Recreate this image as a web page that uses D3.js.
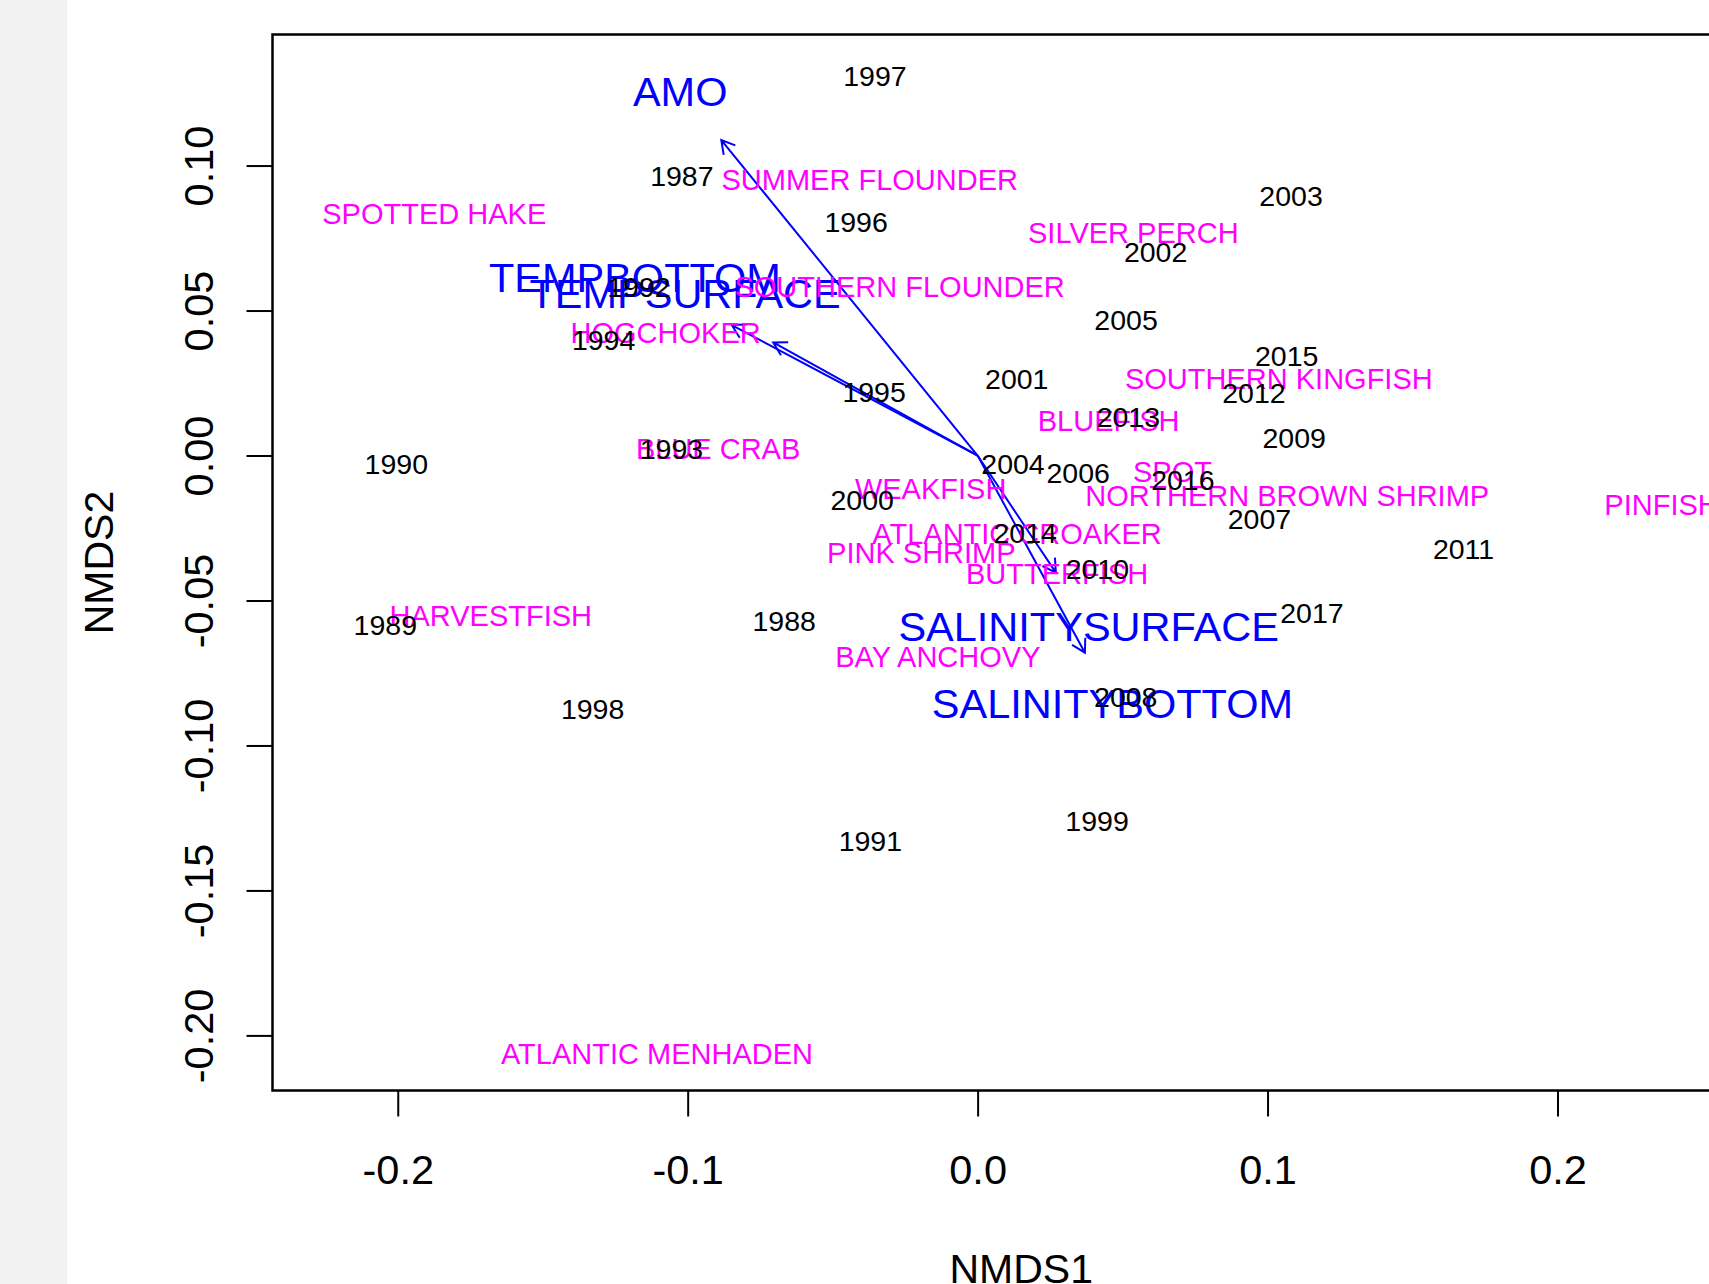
<!DOCTYPE html>
<html>
<head>
<meta charset="utf-8">
<script src="https://cdn.jsdelivr.net/npm/d3@7"></script>
<style>
  html, body { margin: 0; padding: 0; background: #ffffff; }
  svg { display: block; }
  text { font-family: "Liberation Sans", Arial, Helvetica, sans-serif; }
</style>
</head>
<body>
<div id="chart"></div>
<script>
// ---------------- DATA ----------------
const years = ["1987","1988","1989","1990","1991","1992","1993","1994","1995","1996",
  "1997","1998","1999","2000","2001","2002","2003","2004","2005","2006","2007","2008",
  "2009","2010","2011","2012","2013","2014","2015","2016","2017"];
const yearNMDS1 = [-0.1020,-0.0667,-0.2043,-0.2005,-0.0370,-0.1168,-0.1056,-0.1290,-0.0357,-0.0419,
  -0.0354,-0.1328,0.0412,-0.0398,0.0135,0.0614,0.1081,0.0122,0.0512,0.0347,0.0972,0.0511,
  0.1092,0.0413,0.1676,0.0953,0.0520,0.0164,0.1066,0.0708,0.1153];
const yearNMDS2 = [0.0964,-0.0569,-0.0585,-0.0030,-0.1327,0.0583,0.0024,0.0400,0.0220,0.0806,
  0.1310,-0.0874,-0.1259,-0.0151,0.0264,0.0703,0.0897,-0.0030,0.0467,-0.0059,-0.0219,-0.0832,
  0.0063,-0.0392,-0.0320,0.0218,0.0134,-0.0265,0.0345,-0.0084,-0.0542];

const species = ["SUMMER FLOUNDER","SPOTTED HAKE","SILVER PERCH","SOUTHERN FLOUNDER","HOGCHOKER",
  "SOUTHERN KINGFISH","BLUEFISH","BLUE CRAB","SPOT","WEAKFISH","NORTHERN BROWN SHRIMP","PINFISH",
  "ATLANTIC CROAKER","PINK SHRIMP","BUTTERFISH","HARVESTFISH","BAY ANCHOVY","ATLANTIC MENHADEN"];
const speciesNMDS1 = [-0.0372,-0.1874,0.0537,-0.0269,-0.1076,0.1039,0.0452,-0.0895,0.0672,-0.0162,
  0.1068,0.2359,0.0136,-0.0194,0.0274,-0.1679,-0.0137,-0.1106];
const speciesNMDS2 = [0.0950,0.0835,0.0770,0.0582,0.0425,0.0264,0.0120,0.0024,-0.0055,-0.0113,
  -0.0138,-0.0170,-0.0268,-0.0335,-0.0408,-0.0552,-0.0694,-0.2063];

const envVars = ["AMO","TEMPBOTTOM","TEMPSURFACE","SALINITYSURFACE","SALINITYBOTTOM"];
const envArrowNMDS1 = [-0.0884,-0.0848,-0.0705,0.0270,0.0370];
const envArrowNMDS2 = [0.1088,0.0450,0.0390,-0.0404,-0.0680];
const envLabelNMDS1 = [-0.1026,-0.1182,-0.1009,0.0383,0.0465];
const envLabelNMDS2 = [0.1257,0.0617,0.0560,-0.0588,-0.0854];

const xTicks = [-0.2,-0.1,0.0,0.1,0.2];
const xTickLabels = ["-0.2","-0.1","0.0","0.1","0.2"];
const yTicks = [0.10,0.05,0.00,-0.05,-0.10,-0.15,-0.20];
const yTickLabels = ["0.10","0.05","0.00","-0.05","-0.10","-0.15","-0.20"];
const xTitle = "NMDS1";
const yTitle = "NMDS2";

// ---------------- LAYOUT ----------------
const W = 1709, H = 1284;
const plot = { left: 272.5, top: 34.5, right: 1770, bottom: 1090.5 };

const svg = d3.select("#chart").append("svg")
  .attr("width", W).attr("height", H);

svg.append("rect").attr("x", 0).attr("y", 0).attr("width", W).attr("height", H).attr("fill", "#ffffff");
svg.append("rect").attr("x", 0).attr("y", 0).attr("width", 67).attr("height", H).attr("fill", "#f2f2f2");

const x = d3.scaleLinear().domain([-0.2432, 0.2733]).range([plot.left, plot.right]);
const y = d3.scaleLinear().domain([-0.2190, 0.1452]).range([plot.bottom, plot.top]);

// axes
const xAxis = d3.axisBottom(x).tickValues(xTicks).tickSize(26).tickPadding(38)
  .tickFormat((d, i) => xTickLabels[i]);
const gx = svg.append("g").attr("transform", `translate(0,${plot.bottom})`).call(xAxis);
gx.select(".domain").remove();
gx.selectAll(".tick line").attr("stroke", "#000").attr("stroke-width", 2);
gx.selectAll(".tick text").attr("font-size", 41.5).attr("fill", "#000")
  .attr("font-family", "'Liberation Sans', Arial, sans-serif");

const yAxis = d3.axisLeft(y).tickValues(yTicks).tickSize(26)
  .tickFormat((d, i) => yTickLabels[i]);
const gy = svg.append("g").attr("transform", `translate(${plot.left},0)`).call(yAxis);
gy.select(".domain").remove();
gy.selectAll(".tick line").attr("stroke", "#000").attr("stroke-width", 2);
gy.selectAll(".tick text")
  .attr("font-size", 41.5).attr("fill", "#000")
  .attr("font-family", "'Liberation Sans', Arial, sans-serif")
  .attr("text-anchor", "middle")
  .attr("x", null).attr("dy", null)
  .attr("transform", `translate(${198 - plot.left},0) rotate(-90)`)
  .attr("dy", "0.36em");

// box
svg.append("rect")
  .attr("x", plot.left).attr("y", plot.top)
  .attr("width", plot.right - plot.left).attr("height", plot.bottom - plot.top)
  .attr("fill", "none").attr("stroke", "#000").attr("stroke-width", 2.5);

// titles
svg.append("text").attr("x", (plot.left + plot.right) / 2).attr("y", 1268)
  .attr("text-anchor", "middle").attr("dy", "0.36em")
  .attr("font-size", 41).attr("fill", "#000").text(xTitle);
svg.append("text")
  .attr("transform", `translate(98,${(plot.top + plot.bottom) / 2}) rotate(-90)`)
  .attr("text-anchor", "middle").attr("dy", "0.36em")
  .attr("font-size", 41).attr("fill", "#000").text(yTitle);

// env arrows
const blue = "#0000ff";
const gEnv = svg.append("g");
const headLen = 15, headAng = Math.PI / 6;
envVars.forEach((v, i) => {
  const x0 = x(0), y0 = y(0);
  const x1 = x(envArrowNMDS1[i]), y1 = y(envArrowNMDS2[i]);
  const ang = Math.atan2(y1 - y0, x1 - x0);
  const p = d3.path();
  p.moveTo(x0, y0); p.lineTo(x1, y1);
  p.moveTo(x1 - headLen * Math.cos(ang - headAng), y1 - headLen * Math.sin(ang - headAng));
  p.lineTo(x1, y1);
  p.lineTo(x1 - headLen * Math.cos(ang + headAng), y1 - headLen * Math.sin(ang + headAng));
  gEnv.append("path").attr("d", p.toString()).attr("fill", "none")
    .attr("stroke", blue).attr("stroke-width", 2);
});
gEnv.selectAll("text.env").data(envVars).enter().append("text")
  .attr("class", "env")
  .attr("x", (d, i) => x(envLabelNMDS1[i]))
  .attr("y", (d, i) => y(envLabelNMDS2[i]))
  .attr("dy", "0.36em").attr("text-anchor", "middle")
  .attr("font-size", 41.5).attr("fill", blue).text(d => d);

// species
svg.append("g").selectAll("text").data(species).enter().append("text")
  .attr("x", (d, i) => x(speciesNMDS1[i]))
  .attr("y", (d, i) => y(speciesNMDS2[i]))
  .attr("dy", "0.36em").attr("text-anchor", "middle")
  .attr("font-size", 29).attr("fill", "#ff00ff").text(d => d);

// years
svg.append("g").selectAll("text").data(years).enter().append("text")
  .attr("x", (d, i) => x(yearNMDS1[i]))
  .attr("y", (d, i) => y(yearNMDS2[i]))
  .attr("dy", "0.36em").attr("text-anchor", "middle")
  .attr("font-size", 28.5).attr("fill", "#000").text(d => d);
</script>
</body>
</html>
